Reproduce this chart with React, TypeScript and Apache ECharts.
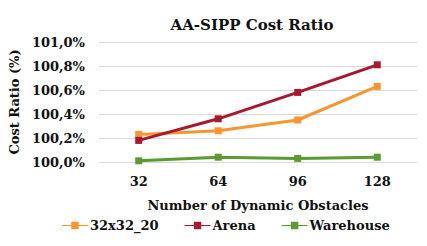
import React, { useEffect, useRef } from "react";
import * as echarts from "echarts";

const categories = ["32", "64", "96", "128"];
const grid32 = [100.23, 100.26, 100.35, 100.63];
const arena = [100.18, 100.36, 100.58, 100.81];
const warehouse = [100.01, 100.04, 100.03, 100.04];
const seriesNames = ["32x32_20", "Arena", "Warehouse"];
const colors = ["#F7962F", "#A6192E", "#5B9B2F"];

const FONT = "'DejaVu Serif', 'Liberation Serif', serif";

export default function App() {
  const ref = useRef<HTMLDivElement>(null);
  useEffect(() => {
    const chart = echarts.init(ref.current!, null, { renderer: "svg" });
    const data = [grid32, arena, warehouse];
    chart.setOption({
      animation: false,
      title: {
        text: "AA-SIPP Cost Ratio",
        left: 247,
        top: 12,
        textAlign: "center",
        textStyle: { fontFamily: FONT, fontWeight: "bold", fontSize: 15, color: "#111" },
      },
      legend: {
        top: 219,
        left: 62,
        padding: 0,
        itemGap: 26,
        itemWidth: 26,
        itemHeight: 8,
        textStyle: { fontFamily: FONT, fontWeight: "bold", fontSize: 13, color: "#111", padding: [0, 0, 0, -3] },
        data: seriesNames.map((n) => ({ name: n, icon: "path://M0,3.5L10,3.5L10,0L18,0L18,8L10,8L10,4.5L28,4.5L28,3.5L18,3.5L18,4.5L0,4.5Z" })),
      },
      grid: { left: 87, right: 10, top: 42, bottom: 84 },
      xAxis: {
        type: "category",
        data: categories,
        boundaryGap: true,
        axisLine: { show: true, lineStyle: { color: "#d9d9d9" } },
        axisTick: { show: false },
        axisLabel: { fontFamily: FONT, fontWeight: "bold", fontSize: 13, color: "#111", margin: 13 },
        name: "Number of Dynamic Obstacles",
        nameLocation: "middle",
        nameGap: 37,
        nameTextStyle: { fontFamily: FONT, fontWeight: "bold", fontSize: 13, color: "#111" },
      },
      yAxis: {
        type: "value",
        min: 100,
        max: 101,
        interval: 0.2,
        axisLine: { show: false },
        axisTick: { show: false },
        splitLine: { lineStyle: { color: "#d9d9d9", width: 1 } },
        axisLabel: {
          fontFamily: FONT,
          fontWeight: "bold",
          fontSize: 13,
          color: "#111",
          margin: 14,
          formatter: (v: number) => v.toFixed(1).replace(".", ",") + "%",
        },
        name: "Cost Ratio (%)",
        nameLocation: "middle",
        nameGap: 71,
        nameTextStyle: { fontFamily: FONT, fontWeight: "bold", fontSize: 13, color: "#111" },
      },
      series: seriesNames.map((n, i) => ({
        name: n,
        type: "line",
        data: data[i],
        color: colors[i],
        symbol: "rect",
        symbolSize: 7,
        lineStyle: { width: 3, color: colors[i] },
        itemStyle: { color: colors[i] },
      })),
    });
    return () => chart.dispose();
  }, []);
  return (
    <div
      ref={ref}
      style={{ position: "absolute", left: 0, top: 0, width: 427, height: 246, background: "#fff" }}
    />
  );
}
